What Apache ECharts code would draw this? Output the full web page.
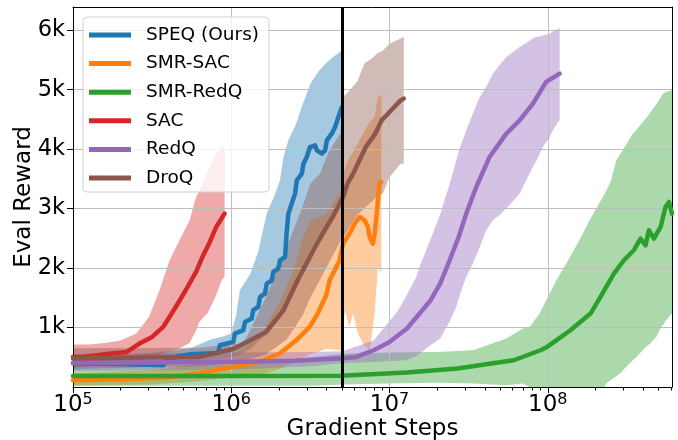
<!DOCTYPE html>
<html>
<head>
<meta charset="utf-8">
<script src="https://cdn.jsdelivr.net/npm/echarts@6/dist/echarts.min.js"></script>
<style>html,body{margin:0;padding:0;background:#fff}#c{width:678px;height:440px}</style>
</head>
<body>
<div id="c"></div>
<script>
// All x values are log10(gradient steps)
const xTickLabels = [5, 6, 7, 8];          // 10^5 ... 10^8
const yTickLabels = [1000, 2000, 3000, 4000, 5000, 6000];
const cutoffStep = 5e6;                      // vertical black line

const seriesNames = ['SPEQ (Ours)', 'SMR-SAC', 'SMR-RedQ', 'SAC', 'RedQ', 'DroQ'];
const seriesColors = ['#1f77b4', '#ff7f0e', '#2ca02c', '#d62728', '#9467bd', '#8c564b'];

// ---- SPEQ (Ours) ----
const speqX = [5.0, 5.27, 5.28, 5.57, 5.6, 5.74, 5.918, 5.928, 6.013, 6.023, 6.076, 6.087, 6.129, 6.139, 6.171, 6.182, 6.213, 6.224, 6.256, 6.266, 6.297, 6.308, 6.34, 6.35, 6.361, 6.382, 6.403, 6.414, 6.446, 6.456, 6.477, 6.498, 6.53, 6.54, 6.572, 6.593, 6.604, 6.635, 6.656, 6.677, 6.699];
const speqY = [400, 390, 366, 366, 480, 551, 573, 703, 758, 899, 955, 1094, 1151, 1291, 1346, 1514, 1571, 1739, 1795, 1935, 1991, 2131, 2187, 2600, 2916, 3084, 3252, 3475, 3588, 3756, 3867, 4035, 4064, 3979, 3924, 3979, 4147, 4260, 4371, 4540, 4708];
const speqBandX = [5.0, 5.4, 5.74, 5.87, 5.95, 6.0, 6.03, 6.055, 6.12, 6.17, 6.224, 6.27, 6.308, 6.33, 6.36, 6.41, 6.445, 6.5, 6.55, 6.6, 6.65, 6.699];
const speqLo = [300, 330, 420, 460, 490, 500, 530, 550, 640, 760, 880, 1020, 1150, 1300, 1450, 1750, 1950, 2250, 2480, 2700, 2950, 3250];
const speqHi = [520, 540, 650, 800, 850, 900, 1200, 1627, 1900, 2270, 2916, 3200, 3475, 3867, 4147, 4428, 4708, 5100, 5300, 5450, 5560, 5660];

// ---- SMR-SAC ----
const smrSacX = [5.0, 5.3, 5.63, 5.84, 6.011, 6.179, 6.306, 6.411, 6.453, 6.496, 6.546, 6.601, 6.622, 6.664, 6.685, 6.706, 6.748, 6.78, 6.811, 6.843, 6.864, 6.874, 6.895, 6.906, 6.917, 6.927, 6.937, 6.948];
const smrSacY = [114, 130, 170, 254, 338, 422, 563, 787, 899, 1010, 1235, 1550, 1795, 2019, 2131, 2411, 2580, 2748, 2859, 2803, 2691, 2523, 2411, 2580, 2859, 3139, 3420, 3447];
const smrSacBandX = [5.0, 5.5, 5.8, 6.0, 6.1, 6.2, 6.3, 6.4, 6.45, 6.5, 6.6, 6.69, 6.72, 6.745, 6.77, 6.8, 6.84, 6.875, 6.906, 6.927, 6.948];
const smrSacLo = [20, 40, 100, 160, 190, 220, 300, 420, 480, 550, 640, 620, 1290, 1010, 1235, 900, 700, 618, 1235, 2019, 1900];
const smrSacHi = [230, 280, 400, 550, 700, 950, 1400, 2000, 2500, 2800, 2900, 3300, 3700, 3850, 3950, 4100, 4300, 4450, 4550, 4876, 4900];

// ---- SMR-RedQ ----
const smrRedqX = [5.0, 6.0, 6.69, 7.11, 7.43, 7.6, 7.785, 7.87, 7.954, 7.996, 8.143, 8.27, 8.333, 8.418, 8.481, 8.544, 8.586, 8.618, 8.639, 8.671, 8.713, 8.744, 8.766, 8.785];
const smrRedqY = [187, 187, 190, 244, 310, 380, 450, 534, 618, 674, 955, 1235, 1514, 1907, 2131, 2300, 2496, 2383, 2635, 2496, 2691, 3027, 3111, 2916];
const smrRedqBandX = [5.0, 6.0, 6.5, 6.7, 7.0, 7.3, 7.527, 7.738, 7.843, 7.885, 7.948, 7.969, 8.054, 8.117, 8.2, 8.264, 8.348, 8.37, 8.4, 8.433, 8.455, 8.537, 8.56, 8.62, 8.642, 8.685, 8.716, 8.727, 8.748, 8.785];
const smrRedqLo = [20, 20, 20, 40, 60, 70, 59, 30, 59, 0, -150, -200, -300, -300, -300, -250, -50, 59, 120, 180, 227, 450, 506, 674, 720, 842, 1010, 1040, 1123, 1235];
const smrRedqHi = [330, 380, 500, 560, 580, 590, 618, 815, 983, 1010, 1235, 1346, 1795, 2076, 2467, 2803, 3195, 3300, 3475, 3811, 3900, 4260, 4320, 4520, 4596, 4750, 4880, 4933, 4960, 4988];

// ---- SAC ----
const sacX = [5.0, 5.06, 5.2, 5.27, 5.34, 5.42, 5.5, 5.57, 5.65, 5.715, 5.78, 5.82, 5.86, 5.905, 5.958];
const sacY = [506, 506, 550, 573, 590, 731, 842, 1010, 1350, 1640, 1950, 2200, 2412, 2691, 2916];
const sacBandX = [5.0, 5.1, 5.2, 5.3, 5.4, 5.48, 5.547, 5.61, 5.673, 5.737, 5.778, 5.8, 5.85, 5.9, 5.94, 5.958];
const sacLo = [330, 350, 370, 400, 430, 480, 540, 600, 650, 740, 955, 1100, 1240, 1514, 1800, 1850];
const sacHi = [714, 714, 740, 780, 900, 1178, 1627, 2131, 2467, 2803, 3195, 3300, 3600, 3900, 4050, 4050];

// ---- RedQ ----
const redqX = [5.0, 6.0, 6.4, 6.69, 6.79, 6.9, 7.0, 7.11, 7.19, 7.26, 7.32, 7.38, 7.437, 7.485, 7.548, 7.632, 7.738, 7.822, 7.906, 7.99, 8.075];
const redqY = [405, 420, 440, 479, 506, 618, 758, 983, 1235, 1459, 1739, 2131, 2523, 2916, 3363, 3867, 4260, 4484, 4764, 5130, 5269];
const redqBandX = [5.0, 6.0, 6.5, 6.7, 6.9, 7.05, 7.1, 7.169, 7.194, 7.232, 7.32, 7.384, 7.422, 7.447, 7.485, 7.527, 7.57, 7.611, 7.653, 7.70, 7.738, 7.822, 7.843, 7.906, 7.927, 7.969, 8.011, 8.032, 8.064, 8.075];
const redqLo = [270, 290, 350, 400, 420, 440, 450, 520, 563, 650, 815, 1123, 1350, 1571, 1850, 2076, 2350, 2635, 2800, 2900, 3000, 3250, 3363, 3700, 3800, 4035, 4200, 4315, 4450, 4484];
const redqHi = [560, 580, 590, 600, 780, 1270, 1500, 1850, 2050, 2300, 2900, 3450, 3811, 4050, 4315, 4600, 4876, 5050, 5269, 5430, 5548, 5716, 5750, 5860, 5884, 5910, 5940, 5980, 6025, 6030];

// ---- DroQ ----
const droqX = [5.0, 5.5, 5.8, 6.013, 6.22, 6.33, 6.42, 6.47, 6.53, 6.59, 6.645, 6.707, 6.734, 6.77, 6.81, 6.85, 6.91, 6.95, 6.99, 7.03, 7.07, 7.09];
const droqY = [480, 500, 506, 640, 926, 1291, 1800, 2050, 2355, 2635, 2880, 3200, 3420, 3588, 3811, 4035, 4260, 4484, 4596, 4708, 4820, 4850];
const droqBandX = [5.0, 5.8, 6.0, 6.07, 6.1, 6.22, 6.35, 6.45, 6.5, 6.56, 6.62, 6.69, 6.706, 6.75, 6.8, 6.84, 6.9, 6.917, 6.958, 7.0, 7.07, 7.09];
const droqLo = [330, 350, 400, 430, 450, 550, 800, 1200, 1500, 1800, 2100, 2450, 2500, 2700, 2900, 3000, 3150, 3195, 3252, 3532, 3756, 3756];
const droqHi = [650, 660, 720, 731, 850, 1514, 2355, 3027, 3420, 3588, 3979, 4260, 4876, 4988, 5156, 5437, 5548, 5600, 5660, 5773, 5860, 5884];

// ---------------------------------------------------------------
const FONT = 'DejaVu Sans';
const X_MIN = 5, X_MAX = 8.785, Y_MIN = 0, Y_MAX = 6390;

function rgba(hex, a) {
  const n = parseInt(hex.slice(1), 16);
  return 'rgba(' + ((n >> 16) & 255) + ',' + ((n >> 8) & 255) + ',' + (n & 255) + ',' + a + ')';
}

function band(idx, xs, lo, hi) {
  const color = rgba(seriesColors[idx], 0.4);
  return {
    type: 'custom',
    name: seriesNames[idx] + ' band',
    data: xs.map((x, i) => [x, lo[i], hi[i]]),
    encode: { x: 0, y: [1, 2] },
    clip: true,
    silent: true,
    z: 1,
    renderItem: function (params, api) {
      if (params.dataIndex !== 0) return null;
      const pts = [];
      for (let i = 0; i < xs.length; i++) pts.push(api.coord([xs[i], hi[i]]));
      for (let i = xs.length - 1; i >= 0; i--) pts.push(api.coord([xs[i], lo[i]]));
      return { type: 'polygon', shape: { points: pts }, style: { fill: color } };
    }
  };
}

function line(idx, xs, ys) {
  return {
    type: 'line',
    name: seriesNames[idx],
    data: xs.map((x, i) => [x, ys[i]]),
    showSymbol: false,
    symbol: 'none',
    clip: true,
    silent: true,
    z: 3,
    color: seriesColors[idx],
    itemStyle: { color: seriesColors[idx] },
    lineStyle: { width: 4.5, color: seriesColors[idx], join: 'round', cap: 'round' }
  };
}

const minorTicks = [];
for (let n = 5; n <= 8; n++) for (let k = 2; k <= 9; k++) {
  const v = Math.log10(k) + n;
  if (v < X_MAX) minorTicks.push(v);
}

const bands = [
  band(0, speqBandX, speqLo, speqHi),
  band(1, smrSacBandX, smrSacLo, smrSacHi),
  band(2, smrRedqBandX, smrRedqLo, smrRedqHi),
  band(3, sacBandX, sacLo, sacHi),
  band(4, redqBandX, redqLo, redqHi),
  band(5, droqBandX, droqLo, droqHi)
];
const lines = [
  line(0, speqX, speqY),
  line(1, smrSacX, smrSacY),
  line(2, smrRedqX, smrRedqY),
  line(3, sacX, sacY),
  line(4, redqX, redqY),
  line(5, droqX, droqY)
];
lines[5].markLine = {
  silent: true,
  symbol: ['none', 'none'],
  label: { show: false },
  lineStyle: { color: '#000', width: 3, type: 'solid' },
  emphasis: { disabled: true },
  z: 5,
  data: [{ xAxis: Math.log10(cutoffStep) }]
};

const chart = echarts.init(document.getElementById('c'), null, { renderer: 'canvas' });
chart.setOption({
  animation: false,
  backgroundColor: '#fff',
  textStyle: { fontFamily: FONT },
  grid: { left: 73, right: 6, top: 7, bottom: 53, containLabel: false, outerBoundsMode: 'none' },
  legend: {
    data: seriesNames,
    orient: 'vertical',
    left: 83, top: 17,
    icon: 'rect',
    itemWidth: 42, itemHeight: 5, itemGap: 8.6,
    padding: [8, 10, 4, 6],
    backgroundColor: 'rgba(255,255,255,0.8)',
    borderColor: '#d0d0d0', borderWidth: 1, borderRadius: 4,
    textStyle: { fontSize: 18.5, fontFamily: FONT, color: '#000', lineHeight: 20, padding: [0, 0, 0, 10] },
    z: 10
  },
  xAxis: [
    {
      type: 'value', min: X_MIN, max: X_MAX, interval: 1, position: 'bottom', z: 2,
      name: 'Gradient Steps', nameLocation: 'middle', nameGap: 31, nameMoveOverlap: false,
      nameTextStyle: { fontSize: 23, fontFamily: FONT, color: '#000' },
      axisLine: { show: true, onZero: false, lineStyle: { color: '#000', width: 1 } },
      axisTick: { show: true, length: 6, customValues: xTickLabels, lineStyle: { color: '#000', width: 1 } },
      axisLabel: {
        customValues: xTickLabels, margin: 5, color: '#000',
        formatter: v => '{b|10}{s|' + v + '}',
        rich: {
          b: { fontSize: 23, fontFamily: FONT, color: '#000', lineHeight: 26 },
          s: { fontSize: 16, fontFamily: FONT, color: '#000', verticalAlign: 'top', lineHeight: 16 }
        }
      },
      splitLine: { show: true, lineStyle: { color: '#bdbdbd', width: 1 } }
    },
    {
      type: 'value', min: X_MIN, max: X_MAX, position: 'bottom', z: 2,
      axisLine: { show: false, onZero: false },
      axisTick: { show: true, length: 3.5, customValues: minorTicks, lineStyle: { color: '#000', width: 1 } },
      axisLabel: { show: false },
      splitLine: { show: false }
    },
    {
      type: 'value', min: X_MIN, max: X_MAX, position: 'top', z: 2,
      axisLine: { show: true, onZero: false, lineStyle: { color: '#000', width: 1 } },
      axisTick: { show: false }, axisLabel: { show: false }, splitLine: { show: false }
    }
  ],
  yAxis: [
    {
      type: 'value', min: Y_MIN, max: Y_MAX, interval: 1000, position: 'left', z: 2,
      name: 'Eval Reward', nameLocation: 'middle', nameGap: 37, nameMoveOverlap: false,
      nameTextStyle: { fontSize: 23, fontFamily: FONT, color: '#000' },
      axisLine: { show: true, onZero: false, lineStyle: { color: '#000', width: 1 } },
      axisTick: { show: true, length: 6, customValues: yTickLabels, lineStyle: { color: '#000', width: 1 } },
      axisLabel: {
        customValues: yTickLabels, margin: 8, fontSize: 22.5, fontFamily: FONT, color: '#000',
        formatter: v => (v / 1000) + 'k'
      },
      splitLine: { show: true, lineStyle: { color: '#bdbdbd', width: 1 } }
    },
    {
      type: 'value', min: Y_MIN, max: Y_MAX, position: 'right', z: 2,
      axisLine: { show: true, onZero: false, lineStyle: { color: '#000', width: 1 } },
      axisTick: { show: false }, axisLabel: { show: false }, splitLine: { show: false }
    }
  ],
  series: bands.concat(lines)
});
</script>
</body>
</html>
